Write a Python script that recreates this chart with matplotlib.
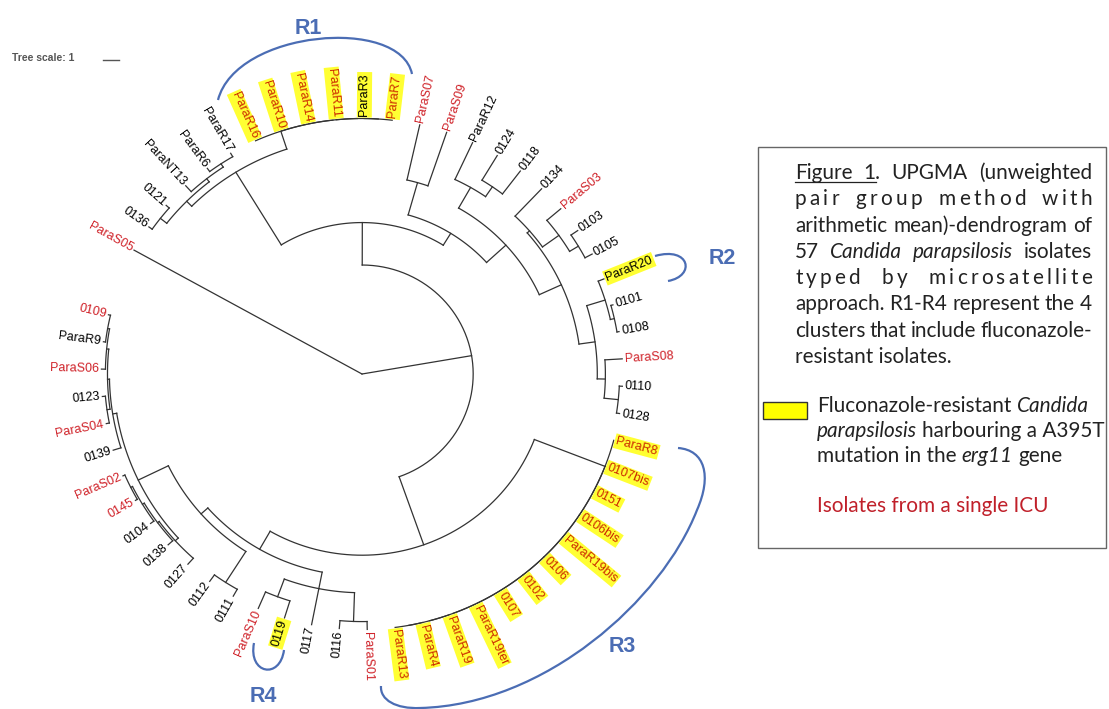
import numpy as np
import matplotlib.pyplot as plt
from matplotlib.path import Path
from matplotlib.patches import PathPatch, Rectangle

# isolates in the order they sit round the circle (clockwise, from ParaS05)
isolates = ["ParaS05", "0136", "0121", "ParaNT13", "ParaR6", "ParaR17",
            "ParaR16", "ParaR10", "ParaR14", "ParaR11", "ParaR3", "ParaR7",
            "ParaS07", "ParaS09", "ParaR12", "0124", "0118", "0134", "ParaS03",
            "0103", "0105", "ParaR20", "0101", "0108", "ParaS08", "0110", "0128",
            "ParaR8", "0107bis", "0151", "0106bis", "ParaR19bis", "0106", "0102",
            "0107", "ParaR19ter", "ParaR19", "ParaR4", "ParaR13",
            "ParaS01", "0116", "0117", "0119", "ParaS10", "0111", "0112",
            "0127", "0138", "0104", "0145", "ParaS02", "0139", "ParaS04",
            "0123", "ParaS06", "ParaR9", "0109"]

icu_isolates = ["ParaS05", "ParaR16", "ParaR10", "ParaR14", "ParaR11", "ParaR7",
                "ParaS07", "ParaS09", "ParaS03", "ParaS08",
                "ParaR8", "0107bis", "0151", "0106bis", "ParaR19bis", "0106", "0102",
                "0107", "ParaR19ter", "ParaR19", "ParaR4", "ParaR13",
                "ParaS01", "ParaS10", "0145", "ParaS02", "ParaS04", "ParaS06", "0109"]

r1_clade = ["ParaR16", "ParaR10", "ParaR14", "ParaR11", "ParaR3", "ParaR7"]
r3_clade = ["ParaR8", "0107bis", "0151", "0106bis", "ParaR19bis", "0106", "0102",
            "0107", "ParaR19ter", "ParaR19", "ParaR4", "ParaR13"]
a395t = r1_clade + ["ParaR20"] + r3_clade + ["0119"]

LEAF = 16.13  # root-to-tip distance, tree scale units


def ladder(names, depth):
    node = names[-1]
    for nm in reversed(names[:-1]):
        node = (depth, [nm, node])
    return node


# internal node = (distance from root, [children]), leaves are names
tree = (0.0, [
    "ParaS05",
    (6.88, [
        (9.56, [
            (14.94, [
                (15.38, [(15.88, ["0136", "0121"]),
                         (15.63, ["ParaNT13", (15.88, ["ParaR6", "ParaR17"])])]),
                ladder(r1_clade, LEAF),
            ]),
            (10.44, [
                (12.56, ["ParaS07", "ParaS09"]),
                (12.06, [
                    (13.56, ["ParaR12", (14.31, ["0124", "0118"])]),
                    (13.56, [
                        (13.75, ["0134", (15.0, ["ParaS03", (15.63, ["0103", "0105"])])]),
                        (14.56, [(15.75, ["ParaR20", (16.0, ["0101", "0108"])]),
                                 (15.06, ["ParaS08", (15.94, ["0110", "0128"])])]),
                    ]),
                ]),
            ]),
        ]),
        (11.44, [
            ladder(r3_clade, LEAF),
            (12.75, [
                (13.81, [(15.63, ["ParaS01", "0116"]), "0117", (15.0, ["0119", "ParaS10"])]),
                (13.31, [
                    (15.63, ["0111", "0112"]),
                    (15.38, [
                        (15.63, ["0127", (15.75, ["0138", (15.88, ["0104", (16.0, ["0145", "ParaS02"])])])]),
                        (15.63, ["0139", (15.75, [(15.94, ["ParaS04", "0123"]),
                                                  (15.88, ["ParaS06", (16.0, ["ParaR9", "0109"])])])]),
                    ]),
                ]),
            ]),
        ]),
    ]),
])

# layout (pixels)
CX, CY = 362, 374
PX = 16.0          # px per tree unit
SX, SY = 1.01, 0.99
START, STEP = 151.0, 6.15
BLUE = '#4b6db4'
RED = '#cf2027'
LINE = '#333333'

leaf_angle = {nm: START - STEP * i for i, nm in enumerate(isolates)}


def xy(r, a):
    t = np.radians(a)
    return CX + r * PX * SX * np.cos(t), CY - r * PX * SY * np.sin(t)


fig = plt.figure(figsize=(11.09, 7.09), dpi=100)
ax = fig.add_axes([0, 0, 1, 1])
ax.set_xlim(0, 1109)
ax.set_ylim(709, 0)
ax.axis('off')
renderer = fig.canvas.get_renderer()

seen = []


def place(node):
    if isinstance(node, str):
        seen.append(node)
        return leaf_angle[node], LEAF
    depth, kids = node
    pos = [place(k) for k in kids]
    a0, a1 = pos[0][0], pos[-1][0]
    if depth > 0:
        aa = np.linspace(a0, a1, 60)
        x, y = xy(depth, aa)
        ax.plot(x, y, color=LINE, lw=0.9)
    for a, d in pos:
        if d > depth:
            x, y = xy(np.array([depth, d]), a)
            ax.plot(x, y, color=LINE, lw=0.9)
    return (a0 + a1) / 2, depth


place(tree)
assert seen == isolates

# tip labels
for nm in isolates:
    a = leaf_angle[nm]
    x, y = xy(LEAF + 2.5 / PX, a)
    if -90 <= a <= 90:
        rot, ha = a, 'left'
    else:
        rot, ha = a + 180, 'right'
    col = RED if nm in icu_isolates else 'black'
    if nm in a395t and nm in icu_isolates:
        col = '#cc2a00'
    kw = {}
    if nm in a395t:
        kw['bbox'] = dict(boxstyle='square,pad=0.12', fc='#ffff33', ec='none')
    ax.text(x, y, nm, rotation=rot, rotation_mode='anchor', ha=ha, va='center',
            fontsize=9, family='Liberation Sans', color=col, **kw)

# tree scale
ax.text(12, 58, 'Tree scale: 1', fontsize=7.5, fontweight='bold', color='#555555',
        family='Liberation Sans', va='center', ha='left')
ax.plot([103, 103 + PX], [60, 60], color='#555555', lw=1)

# cluster brackets
def bezier(pts):
    codes = [Path.MOVETO] + [Path.CURVE4] * (len(pts) - 1)
    ax.add_patch(PathPatch(Path(pts, codes), fc='none', ec=BLUE, lw=1.6))


bezier([(218, 100), (236, 30), (400, 16), (412, 74)])
bezier([(655, 256), (690, 246), (696, 276), (668, 281)])
bezier([(678, 448), (705, 450), (712, 476), (697, 510),
        (662, 600), (545, 705), (420, 708),
        (396, 709), (380, 700), (381, 686)])
bezier([(254, 643), (248, 674), (280, 680), (284, 650)])

for lab, (x, y) in zip(['R1', 'R2', 'R3', 'R4'],
                       [(308, 29), (722, 258), (622, 646), (263, 697)]):
    ax.text(x, y, lab, fontsize=15.5, fontweight='bold', color=BLUE,
            family='Liberation Sans', ha='center', va='center')

# caption box
ax.add_patch(Rectangle((758, 147), 348, 401, fill=False, ec='#666666', lw=1))
FONT = 'Lato'
TXT = '#222222'


def width(s, size, style='normal'):
    t = ax.text(0, 0, s, fontsize=size, family=FONT, style=style)
    w = t.get_window_extent(renderer=renderer).width
    t.remove()
    return w


X0, X1 = 795, 1092
SIZE = 10 * (X1 - X0) / width('arithmetic mean)-dendrogram of', 10)
SPACE = width('x x', SIZE) - width('xx', SIZE)


def put(x, y, s, style='normal', color=TXT):
    ax.text(x, y, s, fontsize=SIZE, family=FONT, style=style, color=color,
            ha='left', va='baseline')


def justify(words, y, spacing=0.0):
    if spacing == 0:
        ws = [width(w, SIZE, st) for w, st in words]
        gap = (X1 - X0 - sum(ws)) / (len(words) - 1)
        x, xs = X0, []
        for (w, st), wd in zip(words, ws):
            put(x, y, w, st)
            xs.append(x)
            x += wd + gap
        return xs
    cws = [[width(c, SIZE, st) for c in w] for w, st in words]
    wws = [sum(c) + spacing * (len(c) - 1) for c in cws]
    gap = (X1 - X0 - sum(wws)) / (len(words) - 1)
    x = X0
    for (w, st), cw, ww in zip(words, cws, wws):
        xc = x
        for c, wc in zip(w, cw):
            put(xc, y, c, st)
            xc += wc + spacing
        x += ww + gap
    return None


n = 'normal'
it = 'italic'
base = [179, 205.3, 231.6, 257.9, 284.2, 310.5, 336.8, 363.1]
xs = justify([('Figure', n), ('1.', n), ('UPGMA', n), ('(unweighted', n)], base[0])
ax.plot([xs[0], xs[1] + width('1', SIZE)], [base[0] + 3, base[0] + 3], color=TXT, lw=0.9)
justify([('pair', n), ('group', n), ('method', n), ('with', n)], base[1], spacing=3.2)
justify([('arithmetic', n), ('mean)-dendrogram', n), ('of', n)], base[2])
justify([('57', n), ('Candida', it), ('parapsilosis', it), ('isolates', n)], base[3])
justify([('typed', n), ('by', n), ('microsatellite', n)], base[4], spacing=3.2)
justify([('approach.', n), ('R1-R4', n), ('represent', n), ('the', n), ('4', n)], base[5])
justify([('clusters', n), ('that', n), ('include', n), ('fluconazole-', n)], base[6])
put(X0, base[7], 'resistant isolates.')

ax.add_patch(Rectangle((763, 402), 44, 17, fc='#ffff00', ec='#333333', lw=1))
legend_lines = [[('Fluconazole-resistant', n), ('Candida', it)],
                [('parapsilosis', it), ('harbouring a A395T', n)],
                [('mutation in the', n), ('erg11', it), ('gene', n)]]
for segs, yb in zip(legend_lines, [411.5, 437, 462.5]):
    x = 817
    for s, st in segs:
        put(x, yb, s, st)
        x += width(s, SIZE, st) + SPACE
put(817, 511.5, 'Isolates from a single ICU', color='#c0202a')

fig.savefig('out.png', dpi=100)
